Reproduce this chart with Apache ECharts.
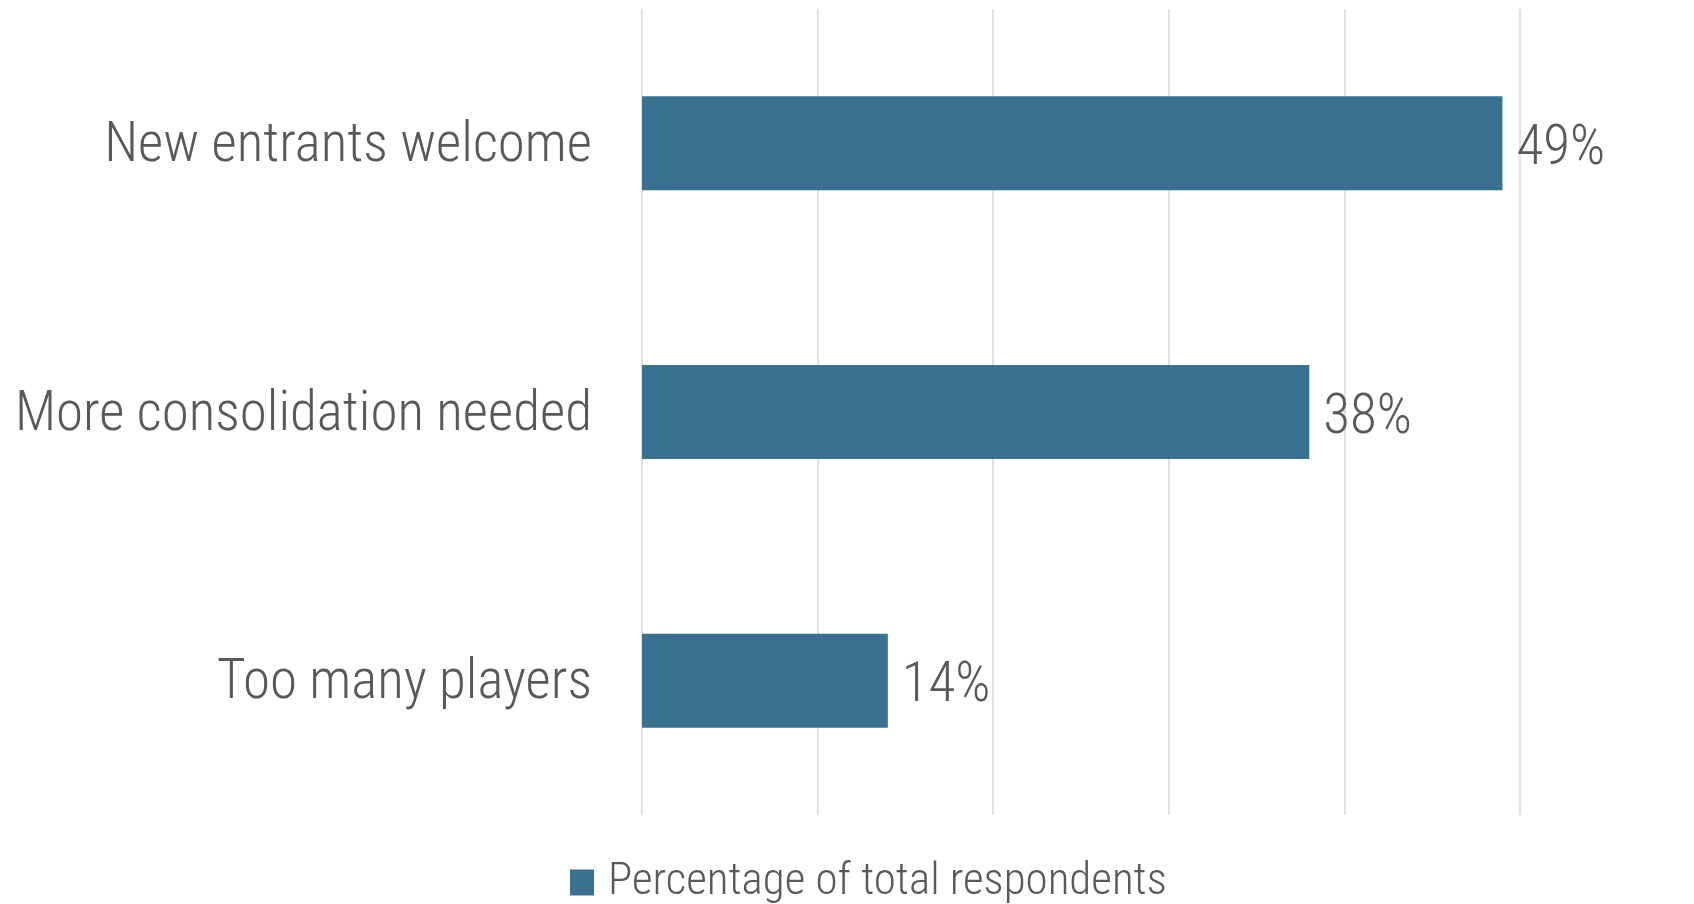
<!DOCTYPE html>
<html>
<head>
<meta charset="utf-8">
<script src="https://cdn.jsdelivr.net/npm/echarts@6/dist/echarts.min.js"></script>
<style>
  html, body { margin: 0; padding: 0; background: #ffffff; }
  #chart { width: 1694px; height: 904px; }
</style>
</head>
<body>
<div id="chart"></div>
<script>
// Survey responses, listed bottom-to-top as drawn on the category axis
const categories = ['Too many players', 'More consolidation needed', 'New entrants welcome'];
const shareValues = [14, 38, 49];
const seriesName = 'Percentage of total respondents';

const FONT = '"Roboto Condensed", "Liberation Sans Narrow", sans-serif';
const TEXT = '#595959';
const BAR = '#3b7190';

const chart = echarts.init(document.getElementById('chart'), null, { renderer: 'canvas' });
chart.setOption({
  animation: false,
  grid: { left: 642, right: 174, top: 9, bottom: 89, containLabel: false, outerBoundsMode: 'none' },
  legend: {
    data: [seriesName],
    bottom: -6,
    left: 565,
    itemWidth: 24,
    itemHeight: 26,
    itemGap: 14,
    icon: 'rect',
    textStyle: { fontFamily: FONT, fontWeight: 300, fontSize: 45, color: TEXT, padding: [0, 0, 0, 9] }
  },
  xAxis: {
    type: 'value',
    min: 0,
    max: 50,
    interval: 10,
    axisLabel: { show: false },
    axisLine: { show: false },
    axisTick: { show: false },
    splitLine: { show: true, lineStyle: { color: '#d9d9d9', width: 1.5 } }
  },
  yAxis: {
    type: 'category',
    data: categories,
    axisLine: { show: false },
    axisTick: { show: false },
    axisLabel: {
      margin: 50,
      formatter: (v) => '{c|' + v + '}',
      rich: {
        c: { fontFamily: FONT, fontWeight: 300, fontSize: 55, color: TEXT, padding: [8, 0, 0, 0] }
      }
    }
  },
  series: [{
    name: seriesName,
    type: 'bar',
    data: shareValues,
    barWidth: '35%',
    itemStyle: { color: BAR },
    label: {
      show: true,
      position: 'right',
      distance: 14,
      offset: [0, 7],
      formatter: '{c}%',
      fontFamily: FONT,
      fontWeight: 300,
      fontSize: 55,
      color: TEXT
    }
  }]
});
</script>
</body>
</html>
